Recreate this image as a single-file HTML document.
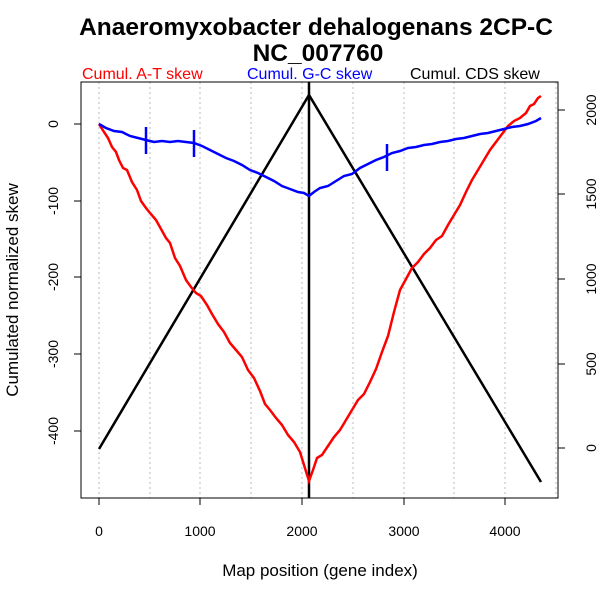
<!DOCTYPE html>
<html><head><style>body{margin:0;background:#fff}svg{display:block}</style></head>
<body>
<svg width="600" height="600" xmlns="http://www.w3.org/2000/svg" font-family="Liberation Sans, sans-serif">
<rect width="600" height="600" fill="#fff"/>
<text x="316" y="35" font-size="24.5" font-weight="bold" text-anchor="middle">Anaeromyxobacter dehalogenans 2CP-C</text>
<text x="318" y="61" font-size="24.5" font-weight="bold" text-anchor="middle">NC_007760</text>
<text x="82" y="79" font-size="16" fill="#f00">Cumul. A-T skew</text>
<text x="247" y="79" font-size="16" fill="#00f">Cumul. G-C skew</text>
<text x="410" y="79" font-size="16" fill="#000">Cumul. CDS skew</text>
<g stroke="#bbb" stroke-dasharray="2,3" stroke-width="1">
<line x1="99" y1="82" x2="99" y2="498"/><line x1="150" y1="82" x2="150" y2="498"/><line x1="200" y1="82" x2="200" y2="498"/><line x1="251" y1="82" x2="251" y2="498"/><line x1="302" y1="82" x2="302" y2="498"/><line x1="353" y1="82" x2="353" y2="498"/><line x1="404" y1="82" x2="404" y2="498"/><line x1="454" y1="82" x2="454" y2="498"/><line x1="505" y1="82" x2="505" y2="498"/><line x1="556" y1="82" x2="556" y2="498"/>
</g>
<rect x="81" y="82" width="477" height="416" fill="none" stroke="#000"/>
<g stroke="#000">
<line x1="99" y1="498" x2="99" y2="505"/><line x1="200" y1="498" x2="200" y2="505"/><line x1="302" y1="498" x2="302" y2="505"/><line x1="404" y1="498" x2="404" y2="505"/><line x1="505" y1="498" x2="505" y2="505"/>
<line x1="74" y1="124" x2="81" y2="124"/><line x1="74" y1="201" x2="81" y2="201"/><line x1="74" y1="277" x2="81" y2="277"/><line x1="74" y1="354" x2="81" y2="354"/><line x1="74" y1="431" x2="81" y2="431"/>
<line x1="558" y1="110" x2="565" y2="110"/><line x1="558" y1="194" x2="565" y2="194"/><line x1="558" y1="279" x2="565" y2="279"/><line x1="558" y1="364" x2="565" y2="364"/><line x1="558" y1="448" x2="565" y2="448"/>
</g>
<g font-size="14" text-anchor="middle">
<text x="99" y="536">0</text><text x="200" y="536">1000</text><text x="302" y="536">2000</text><text x="404" y="536">3000</text><text x="505" y="536">4000</text>
<text transform="translate(58,124) rotate(-90)">0</text>
<text transform="translate(58,201) rotate(-90)">-100</text>
<text transform="translate(58,277) rotate(-90)">-200</text>
<text transform="translate(58,354) rotate(-90)">-300</text>
<text transform="translate(58,431) rotate(-90)">-400</text>
<text transform="translate(596,110) rotate(-90)">2000</text>
<text transform="translate(596,194) rotate(-90)">1500</text>
<text transform="translate(596,279) rotate(-90)">1000</text>
<text transform="translate(596,364) rotate(-90)">500</text>
<text transform="translate(596,448) rotate(-90)">0</text>
</g>
<text x="320" y="576" font-size="17" text-anchor="middle">Map position (gene index)</text>
<text transform="translate(18,290) rotate(-90)" font-size="17" text-anchor="middle">Cumulated normalized skew</text>
<polyline fill="none" stroke="#000" stroke-width="2.5" points="99,449 309,95 541,482"/>
<line x1="309" y1="82" x2="309" y2="498" stroke="#000" stroke-width="2.5"/>
<polyline fill="none" stroke="#f00" stroke-width="2.5" points="99,124 104,132 108,138 112,147 116,152 119,160 123,168 127,170 132,182 137,190 141,201 146,208 150,213 156,220 161,229 166,238 170,243 175,258 180,266 186,280 191,287 196,293 201,296 207,305 212,314 218,324 224,332 230,343 236,350 242,357 248,370 254,378 260,391 265,404 270,410 276,418 282,425 288,435 294,442 300,452 304,465 309,481 313,470 317,458 322,455 328,446 334,437 340,430 346,420 352,410 358,400 364,394 370,382 376,369 382,352 388,336 394,312 400,290 406,279 412,268 418,262 424,254 430,248 436,240 442,236 448,225 454,215 460,205 466,192 472,180 478,170 484,160 490,150 496,142 502,134 508,126 514,121 520,118 526,113 530,106 534,104 538,98 541,96"/>
<polyline fill="none" stroke="#00f" stroke-width="2.5" points="99,124 106,128 114,131 122,132 130,136 138,138 146,140 154,142 162,141 170,142 178,141 186,142 194,143 202,146 210,150 218,154 226,158 234,161 242,165 250,170 258,173 266,177 274,181 282,186 290,189 298,192 304,193 309,196 314,192 320,188 328,186 336,181 344,176 352,174 360,168 368,164 376,160 384,157 392,153 400,151 408,148 416,147 424,145 432,144 440,142 448,141 456,139 464,138 472,136 480,134 488,133 496,131 504,129 512,127 520,126 528,124 536,121 541,118"/>
<g stroke="#00f" stroke-width="2.5">
<line x1="146" y1="127" x2="146" y2="154"/><line x1="194" y1="130" x2="194" y2="157"/><line x1="387" y1="144" x2="387" y2="171"/>
</g>
</svg>
</body></html>
